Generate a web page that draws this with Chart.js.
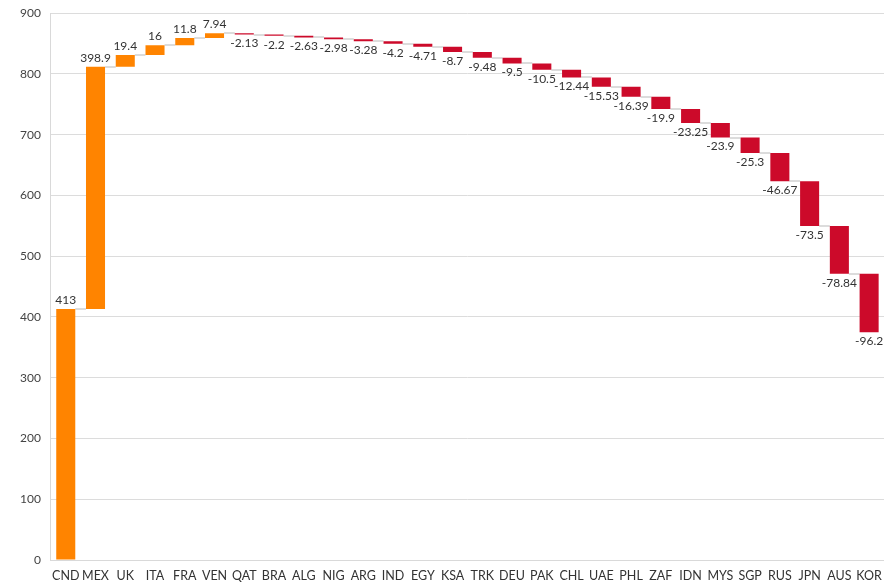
<!DOCTYPE html>
<html>
<head>
  <meta charset="UTF-8">
  <title>Waterfall</title>
  <script src="https://cdn.jsdelivr.net/npm/chart.js"></script>
  <style>
    body { margin: 0; padding: 0; background: #fff; font-family: Lato, sans-serif; overflow: hidden; }
    #chart-container { width: 890px; height: 589px; margin-top: -4px; }
  </style>
</head>
<body>
  <div id="chart-container">
    <canvas id="myChart"></canvas>
  </div>
  <script>
    const categories = ['CND','MEX','UK','ITA','FRA','VEN','QAT','BRA','ALG','NIG','ARG','IND','EGY','KSA','TRK','DEU','PAK','CHL','UAE','PHL','ZAF','IDN','MYS','SGP','RUS','JPN','AUS','KOR'];
    const changes = [413, 398.9, 19.4, 16, 11.8, 7.94, -2.13, -2.2, -2.63, -2.98, -3.28, -4.2, -4.71, -8.7, -9.48, -9.5, -10.5, -12.44, -15.53, -16.39, -19.9, -23.25, -23.9, -25.3, -46.67, -73.5, -78.84, -96.2];
    const yTicks = [0, 100, 200, 300, 400, 500, 600, 700, 800, 900];

    // floating bars: [start, end]
    const ranges = [];
    const ends = [];
    let run = 0;
    changes.forEach(v => {
      const start = run;
      run = +(run + v).toFixed(2);
      ranges.push([start, run]);
      ends.push(run);
    });

    const connectors = {
      id: 'connectors',
      beforeDatasetsDraw(chart) {
        const ctx = chart.ctx;
        const meta = chart.getDatasetMeta(0);
        const y = chart.scales.y;
        ctx.save();
        ctx.strokeStyle = '#dcdcdc';
        ctx.lineWidth = 2;
        for (let i = 0; i < meta.data.length - 1; i++) {
          const a = meta.data[i], b = meta.data[i + 1];
          const py = Math.round(y.getPixelForValue(ends[i]));
          ctx.beginPath();
          ctx.moveTo(a.x + a.width / 2, py);
          ctx.lineTo(b.x - b.width / 2, py);
          ctx.stroke();
        }
        ctx.restore();
      }
    };

    const valueLabels = {
      id: 'valueLabels',
      afterDatasetsDraw(chart) {
        const ctx = chart.ctx;
        const meta = chart.getDatasetMeta(0);
        const y = chart.scales.y;
        ctx.save();
        ctx.font = '12px Lato, sans-serif';
        ctx.fillStyle = '#333';
        ctx.textAlign = 'center';
        meta.data.forEach((bar, i) => {
          const v = changes[i];
          if (v >= 0) {
            ctx.textBaseline = 'bottom';
            ctx.fillText(String(v), bar.x, y.getPixelForValue(ranges[i][1]) - 3);
          } else {
            ctx.textBaseline = 'top';
            ctx.fillText(String(v), bar.x, y.getPixelForValue(ranges[i][1]) + 3);
          }
        });
        ctx.restore();
      }
    };

    const ctx = document.getElementById('myChart').getContext('2d');
    new Chart(ctx, {
      type: 'bar',
      data: {
        labels: categories,
        datasets: [{
          data: ranges,
          backgroundColor: changes.map(v => v >= 0 ? '#ff8400' : '#cc0a2a'),
          borderWidth: 0,
          barPercentage: 0.64,
          categoryPercentage: 1.0
        }]
      },
      options: {
        responsive: true,
        maintainAspectRatio: false,
        animation: false,
        layout: { padding: { top: -2, right: 5, left: 10, bottom: -6 } },
        plugins: {
          legend: { display: false },
          tooltip: { enabled: false }
        },
        scales: {
          x: {
            grid: { display: false, drawTicks: false },
            border: { display: true, color: '#d9d9d9', width: 1 },
            ticks: { color: '#333', font: { family: 'Lato', size: 12.5 }, padding: 8, autoSkip: false, maxRotation: 0 }
          },
          y: {
            min: 0,
            max: 900,
            afterBuildTicks: axis => { axis.ticks = yTicks.map(v => ({ value: v })); },
            grid: { color: '#dcdcdc', drawTicks: false },
            border: { display: true, color: '#d9d9d9', width: 1 },
            ticks: { color: '#444', font: { family: 'Lato', size: 12 }, padding: 10 }
          }
        }
      },
      plugins: [connectors, valueLabels]
    });
  </script>
</body>
</html>
